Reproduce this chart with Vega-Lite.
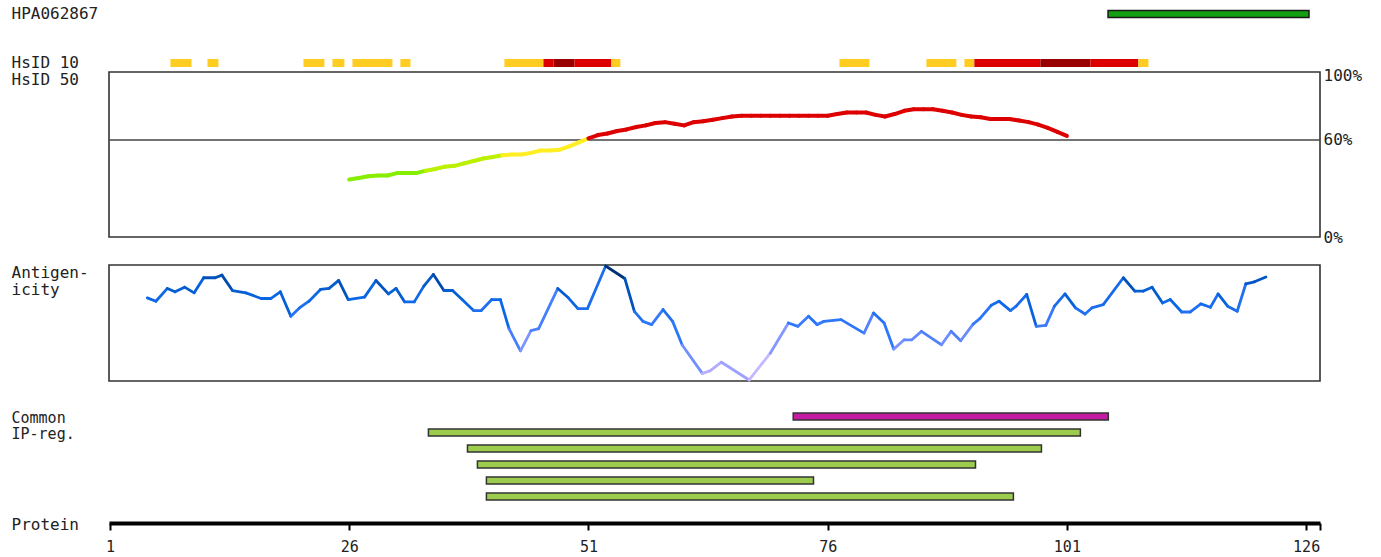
{
  "$schema": "https://vega.github.io/schema/vega-lite/v6.json",
  "padding": {"left": 10, "top": 0, "right": 0, "bottom": 0},
  "background": "white",
  "config": {
    "font": "DejaVu Sans Mono",
    "view": {"stroke": null},
    "axis": {
      "labelFont": "DejaVu Sans Mono", "titleFont": "DejaVu Sans Mono",
      "labelColor": "#222", "titleColor": "#222",
      "labelFontSize": 16, "titleFontSize": 16, "titleFontWeight": "normal"
    }
  },
  "datasets": {
    "hpa": [{"track": "HPA062867", "row": 0, "start": 105.3, "end": 126.3}],
    "hsid10": [
      {"row": 1, "start": 7.32, "end": 9.52, "level": "low"},
      {"row": 1, "start": 11.19, "end": 12.34, "level": "low"},
      {"row": 1, "start": 21.22, "end": 23.41, "level": "low"},
      {"row": 1, "start": 24.25, "end": 25.5, "level": "low"},
      {"row": 1, "start": 26.34, "end": 30.52, "level": "low"},
      {"row": 1, "start": 31.35, "end": 32.4, "level": "low"},
      {"row": 1, "start": 42.22, "end": 46.3, "level": "low"},
      {"row": 1, "start": 46.3, "end": 47.34, "level": "mid"},
      {"row": 1, "start": 47.34, "end": 49.54, "level": "high"},
      {"row": 1, "start": 49.54, "end": 53.4, "level": "mid"},
      {"row": 1, "start": 53.4, "end": 54.34, "level": "low"},
      {"row": 1, "start": 77.23, "end": 80.36, "level": "low"},
      {"row": 1, "start": 86.32, "end": 89.45, "level": "low"},
      {"row": 1, "start": 90.29, "end": 91.33, "level": "low"},
      {"row": 1, "start": 91.33, "end": 98.23, "level": "mid"},
      {"row": 1, "start": 98.23, "end": 103.45, "level": "high"},
      {"row": 1, "start": 103.45, "end": 108.47, "level": "mid"},
      {"row": 1, "start": 108.47, "end": 109.52, "level": "low"}
    ],
    "hsid50": [
      {"pos": 26, "pct": 35.5}, {"pos": 27, "pct": 36.5}, {"pos": 28, "pct": 37.5}, {"pos": 29, "pct": 38},
      {"pos": 30, "pct": 38}, {"pos": 31, "pct": 39.5}, {"pos": 32, "pct": 39.5}, {"pos": 33, "pct": 39.5},
      {"pos": 34, "pct": 41}, {"pos": 35, "pct": 42}, {"pos": 36, "pct": 43.5}, {"pos": 37, "pct": 44},
      {"pos": 38, "pct": 45.5}, {"pos": 39, "pct": 47}, {"pos": 40, "pct": 48.5}, {"pos": 41, "pct": 49.5},
      {"pos": 42, "pct": 50.5}, {"pos": 43, "pct": 51}, {"pos": 44, "pct": 51}, {"pos": 45, "pct": 52},
      {"pos": 46, "pct": 53.5}, {"pos": 47, "pct": 53.5}, {"pos": 48, "pct": 54}, {"pos": 49, "pct": 56},
      {"pos": 50, "pct": 58.5}, {"pos": 51, "pct": 61}, {"pos": 52, "pct": 63}, {"pos": 53, "pct": 64},
      {"pos": 54, "pct": 65.5}, {"pos": 55, "pct": 66.5}, {"pos": 56, "pct": 68}, {"pos": 57, "pct": 69},
      {"pos": 58, "pct": 70.5}, {"pos": 59, "pct": 71}, {"pos": 60, "pct": 70}, {"pos": 61, "pct": 69},
      {"pos": 62, "pct": 71}, {"pos": 63, "pct": 71.5}, {"pos": 64, "pct": 72.5}, {"pos": 65, "pct": 73.5},
      {"pos": 66, "pct": 74.5}, {"pos": 67, "pct": 75}, {"pos": 68, "pct": 75}, {"pos": 69, "pct": 75},
      {"pos": 70, "pct": 75}, {"pos": 71, "pct": 75}, {"pos": 72, "pct": 75}, {"pos": 73, "pct": 75},
      {"pos": 74, "pct": 75}, {"pos": 75, "pct": 75}, {"pos": 76, "pct": 75}, {"pos": 77, "pct": 76},
      {"pos": 78, "pct": 77}, {"pos": 79, "pct": 77}, {"pos": 80, "pct": 77}, {"pos": 81, "pct": 75.5},
      {"pos": 82, "pct": 74.5}, {"pos": 83, "pct": 76}, {"pos": 84, "pct": 78}, {"pos": 85, "pct": 79},
      {"pos": 86, "pct": 79}, {"pos": 87, "pct": 79}, {"pos": 88, "pct": 78}, {"pos": 89, "pct": 77},
      {"pos": 90, "pct": 75.5}, {"pos": 91, "pct": 74.5}, {"pos": 92, "pct": 74}, {"pos": 93, "pct": 73},
      {"pos": 94, "pct": 73}, {"pos": 95, "pct": 73}, {"pos": 96, "pct": 72}, {"pos": 97, "pct": 71},
      {"pos": 98, "pct": 69.5}, {"pos": 99, "pct": 67.5}, {"pos": 100, "pct": 65}, {"pos": 101, "pct": 62.5}
    ],
    "ref": [{"pct": 60}],
    "antigen": [
      {"pos": 4.9, "v": 71.7}, {"pos": 5.8, "v": 68.8}, {"pos": 7.0, "v": 79.8}, {"pos": 7.8, "v": 76.9},
      {"pos": 8.8, "v": 80.9}, {"pos": 9.8, "v": 76.0}, {"pos": 10.8, "v": 89.0}, {"pos": 12.0, "v": 89.0},
      {"pos": 12.7, "v": 91.3}, {"pos": 13.8, "v": 78.0}, {"pos": 15.2, "v": 76.0}, {"pos": 16.8, "v": 71.1},
      {"pos": 17.8, "v": 71.1}, {"pos": 18.8, "v": 76.9}, {"pos": 19.9, "v": 55.8}, {"pos": 20.8, "v": 63.0},
      {"pos": 21.8, "v": 68.8}, {"pos": 23.0, "v": 78.9}, {"pos": 23.9, "v": 79.8}, {"pos": 24.9, "v": 86.7},
      {"pos": 25.9, "v": 70.2}, {"pos": 27.6, "v": 72.3}, {"pos": 28.8, "v": 86.7}, {"pos": 30.1, "v": 75.1},
      {"pos": 30.9, "v": 79.8}, {"pos": 31.8, "v": 68.2}, {"pos": 32.8, "v": 68.2}, {"pos": 33.8, "v": 81.8},
      {"pos": 34.8, "v": 91.9}, {"pos": 35.9, "v": 78.0}, {"pos": 36.8, "v": 78.0}, {"pos": 37.8, "v": 70.2},
      {"pos": 39.0, "v": 60.7}, {"pos": 39.8, "v": 60.7}, {"pos": 40.9, "v": 70.2}, {"pos": 41.8, "v": 70.2},
      {"pos": 42.7, "v": 45.1}, {"pos": 43.9, "v": 26.0}, {"pos": 45.0, "v": 43.4}, {"pos": 45.8, "v": 45.1},
      {"pos": 47.8, "v": 79.8}, {"pos": 48.9, "v": 71.7}, {"pos": 49.9, "v": 62.4}, {"pos": 50.9, "v": 62.4},
      {"pos": 52.8, "v": 99.1}, {"pos": 54.8, "v": 88.4}, {"pos": 55.8, "v": 60.1}, {"pos": 56.7, "v": 51.4},
      {"pos": 57.6, "v": 48.6}, {"pos": 58.8, "v": 61.6}, {"pos": 59.8, "v": 51.4}, {"pos": 60.8, "v": 31.0},
      {"pos": 62.9, "v": 6.6}, {"pos": 63.7, "v": 8.7}, {"pos": 64.9, "v": 16.2}, {"pos": 67.8, "v": 0.9},
      {"pos": 70.0, "v": 24.0}, {"pos": 71.9, "v": 50.0}, {"pos": 72.9, "v": 47.1}, {"pos": 74.0, "v": 55.8},
      {"pos": 74.9, "v": 48.6}, {"pos": 75.6, "v": 51.4}, {"pos": 77.4, "v": 52.9}, {"pos": 79.8, "v": 41.3},
      {"pos": 80.8, "v": 58.7}, {"pos": 81.9, "v": 50.0}, {"pos": 82.9, "v": 27.5}, {"pos": 84.0, "v": 35.5},
      {"pos": 84.8, "v": 35.5}, {"pos": 85.8, "v": 42.8}, {"pos": 87.9, "v": 31.2}, {"pos": 88.9, "v": 42.8},
      {"pos": 89.9, "v": 34.7}, {"pos": 91.2, "v": 49.1}, {"pos": 91.9, "v": 53.8}, {"pos": 93.1, "v": 65.3},
      {"pos": 93.9, "v": 68.8}, {"pos": 95.1, "v": 60.7}, {"pos": 95.7, "v": 64.5}, {"pos": 96.8, "v": 74.6},
      {"pos": 97.8, "v": 47.1}, {"pos": 98.8, "v": 48.0}, {"pos": 99.7, "v": 64.5}, {"pos": 100.8, "v": 75.1},
      {"pos": 101.9, "v": 63.0}, {"pos": 102.9, "v": 57.8}, {"pos": 103.6, "v": 63.0}, {"pos": 104.8, "v": 65.9},
      {"pos": 106.9, "v": 89.0}, {"pos": 108.1, "v": 77.5}, {"pos": 109.0, "v": 77.5}, {"pos": 109.9, "v": 80.9},
      {"pos": 111.0, "v": 67.3}, {"pos": 111.8, "v": 70.2}, {"pos": 113.0, "v": 59.5}, {"pos": 113.9, "v": 59.5},
      {"pos": 115.0, "v": 66.5}, {"pos": 116.0, "v": 63.6}, {"pos": 116.8, "v": 75.1}, {"pos": 117.8, "v": 64.5},
      {"pos": 118.8, "v": 60.1}, {"pos": 119.7, "v": 83.8}, {"pos": 120.6, "v": 85.5}, {"pos": 121.8, "v": 89.6}
    ],
    "ipreg": [
      {"row": 0, "start": 72.4, "end": 105.33, "kind": "common"},
      {"row": 1, "start": 34.28, "end": 102.41, "kind": "ip"},
      {"row": 2, "start": 38.36, "end": 98.34, "kind": "ip"},
      {"row": 3, "start": 39.4, "end": 91.45, "kind": "ip"},
      {"row": 4, "start": 40.34, "end": 74.52, "kind": "ip"},
      {"row": 5, "start": 40.34, "end": 95.41, "kind": "ip"}
    ]
  },
  "spacing": 28,
  "bounds": "flush",
  "vconcat": [
    {
      "width": 1211,
      "height": 44,
      "view": {"stroke": null},
      "layer": [
        {
          "data": {"name": "hpa"},
          "mark": {"type": "bar", "size": 7, "fill": "#12a012", "stroke": "#1a1a1a", "strokeWidth": 1.5},
          "encoding": {
            "x": {"field": "start", "type": "quantitative", "scale": {"domain": [0.9, 127.45], "nice": false, "zero": false, "padding": 0}, "axis": null},
            "x2": {"field": "end"},
            "y": {
              "field": "row", "type": "quantitative",
              "scale": {"domain": [-0.2857, 0.6123], "reverse": true, "nice": false, "zero": false, "padding": 0},
              "axis": {
                "values": [0], "labelExpr": "'HPA062867'",
                "labelAlign": "left", "labelBaseline": "middle", "labelPadding": 98, "tickSize": 0,
                "ticks": false, "domain": false, "grid": false,
                "labelFlush": false, "labelOverlap": false,
                "title": "HsID 10", "titleAngle": 0, "titleAlign": "left", "titleBaseline": "middle",
                "titleX": -98, "titleY": 62
              }
            }
          }
        },
        {
          "data": {"name": "hsid10"},
          "mark": {"type": "bar", "size": 8},
          "encoding": {
            "x": {"field": "start", "type": "quantitative", "scale": {"domain": [0.9, 127.45], "nice": false, "zero": false, "padding": 0}, "axis": null},
            "x2": {"field": "end"},
            "y": {"field": "row", "type": "quantitative"},
            "color": {"field": "level", "type": "nominal", "scale": {"domain": ["low", "mid", "high"], "range": ["#ffcc22", "#dd0000", "#990000"]}, "legend": null}
          }
        }
      ]
    },
    {
      "width": 1211,
      "height": 165,
      "view": {"stroke": "#333333", "strokeWidth": 1.6},
      "layer": [
        {
          "data": {"name": "ref"},
          "mark": {"type": "rule", "color": "#444444", "strokeWidth": 1.6},
          "encoding": {
            "y": {
              "field": "pct", "type": "quantitative",
              "scale": {"domain": [0, 102], "nice": false, "zero": false},
              "axis": {
                "orient": "right", "values": [0, 60, 100], "labelExpr": "datum.value + '%'",
                "labelPadding": 3, "tickSize": 0, "ticks": false, "domain": false, "grid": false,
                "labelFlush": false, "labelOverlap": false, "labelBaseline": "middle",
                "title": "HsID 50", "titleAngle": 0, "titleAlign": "left", "titleBaseline": "middle",
                "titleX": -1309, "titleY": 7
              }
            }
          }
        },
        {
          "data": {"name": "hsid50"},
          "transform": [
            {"window": [{"op": "lead", "field": "pos", "as": "pos2"}, {"op": "lead", "field": "pct", "as": "pct2"}], "sort": [{"field": "pos", "order": "ascending"}]},
            {"filter": "datum.pos2 != null"}
          ],
          "mark": {"type": "rule", "strokeWidth": 4, "strokeCap": "round"},
          "encoding": {
            "x": {"field": "pos", "type": "quantitative", "scale": {"domain": [0.9, 127.45], "nice": false, "zero": false}, "axis": null},
            "x2": {"field": "pos2"},
            "y": {"field": "pct", "type": "quantitative"},
            "y2": {"field": "pct2"},
            "color": {"field": "pct", "type": "quantitative", "scale": {"type": "threshold", "domain": [40.8, 50.2, 60], "range": ["#88ee00", "#bbf000", "#ffee22", "#dd0000"]}, "legend": null}
          }
        }
      ]
    },
    {
      "width": 1211,
      "height": 116,
      "view": {"stroke": "#333333", "strokeWidth": 1.6},
      "data": {"name": "antigen"},
      "transform": [
        {"window": [{"op": "lead", "field": "pos", "as": "pos2"}, {"op": "lead", "field": "v", "as": "v2"}], "sort": [{"field": "pos", "order": "ascending"}]},
        {"filter": "datum.pos2 != null"}
      ],
      "mark": {"type": "rule", "strokeWidth": 2.8, "strokeCap": "round"},
      "encoding": {
        "x": {"field": "pos", "type": "quantitative", "scale": {"domain": [0.9, 127.45], "nice": false, "zero": false}, "axis": null},
        "x2": {"field": "pos2"},
        "y": {
          "field": "v", "type": "quantitative",
          "scale": {"domain": [0, 100], "nice": false, "zero": false},
          "axis": {
            "labels": false, "ticks": false, "tickSize": 0, "domain": false, "grid": false,
            "title": ["Antigen-", "icity"], "titleAngle": 0, "titleAlign": "left", "titleBaseline": "middle",
            "titleLineHeight": 17, "titleX": -98, "titleY": 7
          }
        },
        "y2": {"field": "v2"},
        "color": {"field": "v", "type": "quantitative", "scale": {"domain": [0, 25, 50, 70, 90, 100], "range": ["#c8b8ff", "#7f96ff", "#2f78fb", "#0a68e6", "#0050b8", "#002f6c"]}, "legend": null}
      }
    },
    {
      "width": 1211,
      "height": 114,
      "view": {"stroke": null},
      "data": {"name": "ipreg"},
      "mark": {"type": "bar", "size": 7, "stroke": "#333333", "strokeWidth": 1.5},
      "encoding": {
        "x": {
          "field": "start", "type": "quantitative",
          "scale": {"domain": [0.9, 127.45], "nice": false, "zero": false, "padding": 0},
          "axis": {
            "values": [1, 26, 51, 76, 101, 126, 127.45],
            "labelExpr": "datum.value > 127 ? '' : datum.label",
            "domain": true, "domainWidth": 4, "domainColor": "#000000",
            "ticks": true, "tickColor": "#000000", "tickWidth": 2, "tickSize": 7,
            "labelPadding": 9, "labelFontSize": 15, "labelFlush": false, "labelOverlap": false, "grid": false,
            "title": "Protein", "titleAngle": 0, "titleAlign": "left", "titleBaseline": "middle",
            "titleX": -98, "titleY": 1
          }
        },
        "x2": {"field": "end"},
        "y": {
          "field": "row", "type": "quantitative",
          "scale": {"domain": [-0.469, 6.656], "reverse": true, "nice": false, "zero": false, "padding": 0},
          "axis": {
            "labels": false, "ticks": false, "tickSize": 0, "domain": false, "grid": false,
            "title": ["Common", "IP-reg."], "titleAngle": 0, "titleAlign": "left", "titleBaseline": "middle",
            "titleFontSize": 15, "titleLineHeight": 16, "titleX": -98, "titleY": 8
          }
        },
        "fill": {"field": "kind", "type": "nominal", "scale": {"domain": ["common", "ip"], "range": ["#c41ca2", "#9ccc4e"]}, "legend": null}
      }
    }
  ]
}
